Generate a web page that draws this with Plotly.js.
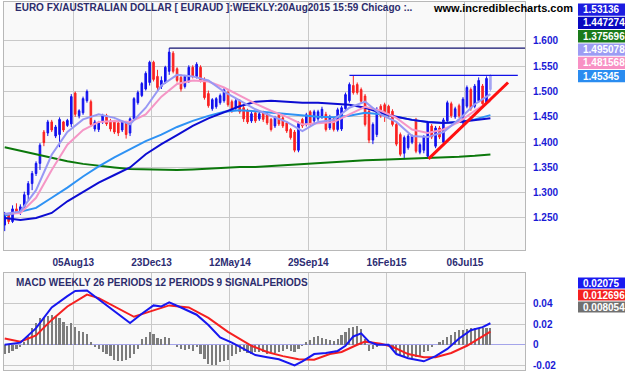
<!DOCTYPE html>
<html><head><meta charset="utf-8">
<script src="https://cdn.plot.ly/plotly-3.0.1.min.js"></script>
<style>html,body{margin:0;padding:0;background:#fff}#chart{width:625px;height:379px}</style>
</head><body><div id="chart"></div>
<script>
// Weekly EURAUD candles (week index 0 = Apr 2013 ... 124 = week of 17 Aug 2015)
const opens = [1.236,1.257,1.243,1.268,1.262,1.272,1.296,1.318,1.338,1.358,
1.420,1.418,1.440,1.412,1.415,1.440,1.433,1.436,1.497,1.452,
1.458,1.482,1.480,1.426,1.425,1.440,1.452,1.442,1.440,1.438,
1.424,1.438,1.418,1.446,1.478,1.492,1.505,1.518,1.558,1.530,
1.510,1.518,1.540,1.576,1.545,1.528,1.510,1.520,1.548,1.530,
1.548,1.524,1.496,1.466,1.470,1.478,1.482,1.498,1.480,1.468,
1.482,1.468,1.462,1.442,1.458,1.446,1.458,1.455,1.445,1.432,
1.455,1.448,1.438,1.425,1.420,1.384,1.445,1.435,1.460,1.442,
1.446,1.450,1.455,1.428,1.446,1.425,1.426,1.466,1.482,1.512,
1.514,1.504,1.491,1.461,1.404,1.415,1.471,1.474,1.471,1.461,
1.435,1.415,1.378,1.389,1.400,1.445,1.380,1.384,1.372,1.432,
1.392,1.428,1.400,1.442,1.476,1.450,1.472,1.438,1.471,1.504,
1.471,1.482,1.511,1.478,1.504];
const highs = [1.262,1.259,1.275,1.279,1.277,1.302,1.323,1.343,1.362,1.398,
1.424,1.444,1.444,1.434,1.449,1.442,1.446,1.495,1.500,1.465,
1.490,1.504,1.484,1.444,1.442,1.456,1.456,1.446,1.444,1.443,
1.442,1.442,1.449,1.489,1.502,1.519,1.540,1.561,1.561,1.543,
1.530,1.551,1.586,1.580,1.548,1.534,1.533,1.552,1.552,1.558,
1.552,1.528,1.502,1.487,1.489,1.496,1.507,1.502,1.484,1.486,
1.485,1.472,1.466,1.460,1.461,1.460,1.462,1.458,1.448,1.452,
1.458,1.451,1.441,1.428,1.424,1.441,1.448,1.458,1.463,1.464,
1.464,1.470,1.460,1.454,1.450,1.468,1.472,1.498,1.518,1.532,
1.518,1.508,1.495,1.465,1.439,1.469,1.475,1.478,1.474,1.465,
1.439,1.419,1.413,1.416,1.415,1.448,1.399,1.414,1.442,1.436,
1.432,1.432,1.448,1.482,1.480,1.470,1.476,1.489,1.512,1.508,
1.515,1.528,1.515,1.530,1.534];
const lows = [1.224,1.238,1.240,1.258,1.256,1.266,1.285,1.305,1.333,1.345,
1.392,1.412,1.420,1.408,1.390,1.420,1.430,1.430,1.450,1.447,
1.454,1.478,1.430,1.421,1.420,1.436,1.432,1.421,1.416,1.412,
1.420,1.407,1.412,1.443,1.474,1.489,1.502,1.512,1.520,1.503,
1.505,1.515,1.533,1.536,1.518,1.500,1.506,1.517,1.526,1.526,
1.518,1.484,1.468,1.462,1.466,1.474,1.478,1.470,1.458,1.464,
1.456,1.440,1.436,1.438,1.438,1.442,1.440,1.434,1.421,1.428,
1.432,1.428,1.418,1.405,1.380,1.380,1.428,1.431,1.432,1.438,
1.442,1.446,1.421,1.424,1.421,1.421,1.422,1.462,1.478,1.494,
1.494,1.477,1.431,1.398,1.396,1.410,1.448,1.440,1.448,1.431,
1.392,1.372,1.366,1.385,1.396,1.378,1.376,1.378,1.367,1.406,
1.388,1.406,1.396,1.438,1.448,1.446,1.448,1.434,1.467,1.462,
1.467,1.478,1.472,1.474,1.500];
const closes = [1.257,1.243,1.268,1.262,1.272,1.296,1.318,1.338,1.358,1.394,
1.399,1.440,1.424,1.430,1.445,1.424,1.443,1.490,1.455,1.462,
1.486,1.500,1.435,1.440,1.439,1.452,1.436,1.426,1.420,1.418,
1.440,1.415,1.446,1.486,1.498,1.516,1.536,1.558,1.524,1.508,
1.522,1.548,1.578,1.540,1.522,1.505,1.530,1.548,1.530,1.554,
1.522,1.488,1.472,1.484,1.486,1.492,1.503,1.474,1.462,1.482,
1.460,1.446,1.440,1.456,1.442,1.456,1.445,1.438,1.425,1.448,
1.436,1.432,1.422,1.409,1.384,1.437,1.432,1.454,1.436,1.460,
1.460,1.465,1.425,1.450,1.425,1.464,1.468,1.494,1.514,1.498,
1.498,1.481,1.435,1.404,1.435,1.465,1.452,1.455,1.452,1.435,
1.396,1.376,1.409,1.412,1.412,1.382,1.395,1.410,1.438,1.410,
1.428,1.410,1.444,1.478,1.452,1.466,1.452,1.485,1.508,1.466,
1.511,1.522,1.476,1.526,1.5314];

const maWeeks = [0,4,8,12,16,20,24,28,32,36,40,44,48,52,56,60,64,68,72,76,80,84,88,92,96,100,104,108,112,116,120,124];
const maLavender = [1.258,1.263,1.305,1.375,1.420,1.445,1.455,1.448,1.435,1.468,1.512,1.533,1.530,1.522,1.500,1.482,1.465,1.452,1.440,1.422,1.440,1.444,1.468,1.480,1.455,1.440,1.412,1.410,1.420,1.445,1.475,1.495078];
const maPink = [1.258,1.260,1.290,1.345,1.395,1.424,1.440,1.442,1.440,1.455,1.490,1.515,1.522,1.520,1.508,1.492,1.476,1.462,1.450,1.435,1.438,1.440,1.455,1.470,1.462,1.448,1.425,1.418,1.425,1.440,1.462,1.481568];
const maSky = [1.255,1.262,1.270,1.290,1.310,1.332,1.352,1.370,1.386,1.402,1.415,1.430,1.442,1.452,1.460,1.463,1.461,1.458,1.455,1.452,1.450,1.449,1.452,1.458,1.455,1.450,1.444,1.440,1.438,1.440,1.445,1.45345];
const maNavy = [1.250,1.246,1.250,1.260,1.283,1.302,1.320,1.335,1.350,1.376,1.396,1.414,1.432,1.447,1.459,1.471,1.480,1.482,1.480,1.478,1.478,1.476,1.474,1.468,1.458,1.450,1.444,1.440,1.438,1.440,1.443,1.447274];
const maGreen = [1.390,1.383,1.376,1.368,1.362,1.357,1.353,1.350,1.347,1.346,1.345,1.345,1.346,1.348,1.350,1.351,1.351,1.353,1.355,1.356,1.358,1.360,1.362,1.364,1.365,1.366,1.367,1.368,1.369,1.371,1.373,1.375696];

// Drawn lines: resistance lines and trend line
const topLineWeeks = [42, 133]; const topLinePrices = [1.586, 1.586];
const resLineWeeks = [88, 131]; const resLinePrices = [1.532, 1.532];
const trendWeeks = [108.2, 128.5]; const trendPrices = [1.367, 1.518];

// MACD panel
const macdWeeks = [0,4,8,12,16,18,21,24,28,32,35,38,40,42,45,49,52,55,58,61,64,67,70,74,76,79,82,85,87,89,91,93,95,98,100,103,107,110,113,116,119,122,124];
const macdValues = [0.000,0.002,0.016,0.036,0.047,0.052,0.0525,0.044,0.032,0.021,0.030,0.038,0.037,0.041,0.036,0.029,0.019,0.007,0.002,-0.004,-0.010,-0.012,-0.014,-0.020,-0.016,-0.009,-0.008,-0.006,-0.001,0.008,0.011,0.003,0.000,0.000,-0.009,-0.013,-0.016,-0.011,-0.004,0.006,0.014,0.017,0.02075];
const signalWeeks = [0,4,8,12,16,21,24,29,33,37,42,47,52,57,60,63,67,71,75,79,83,86,90,92,96,99,103,107,110,114,118,121,124];
const signalValues = [0.006,0.003,0.009,0.024,0.037,0.0485,0.045,0.035,0.027,0.032,0.038,0.036,0.026,0.0125,0.006,-0.001,-0.007,-0.011,-0.014,-0.0145,-0.009,-0.007,0.000,0.003,0.001,-0.002,-0.009,-0.012,-0.012,-0.008,-0.001,0.006,0.0127];
const histBars = [-0.009,-0.008,-0.006,-0.004,-0.002,0.003,0.009,0.016,0.021,0.026,
0.027,0.028,0.029,0.027,0.026,0.022,0.018,0.021,0.017,0.013,
0.012,0.010,0.003,-0.002,-0.004,-0.007,-0.009,-0.011,-0.015,-0.016,
-0.016,-0.015,-0.013,-0.009,-0.004,0.006,0.0075,0.012,0.010,0.0066,
0.006,0.0075,0.0066,0.000,-0.002,-0.004,-0.005,-0.004,-0.006,-0.002,
-0.009,-0.014,-0.019,-0.020,-0.020,-0.017,-0.016,-0.015,-0.011,-0.009,
-0.007,-0.006,-0.008,-0.009,-0.007,-0.0066,-0.007,-0.009,-0.007,-0.008,
-0.0066,-0.0056,-0.004,-0.0056,-0.007,-0.004,-0.0013,0.0026,0.005,0.0075,
0.008,0.0066,0.006,0.005,0.004,0.006,0.009,0.012,0.016,0.017,
0.018,0.015,0.006,-0.0056,-0.004,-0.0023,-0.0007,0.001,0.000,-0.004,
-0.009,-0.0105,-0.012,-0.012,-0.013,-0.012,-0.0105,-0.0072,-0.0056,-0.0023,
0.000,0.0026,0.0043,0.0075,0.009,0.012,0.014,0.014,0.015,0.016,
0.016,0.0157,0.016,0.016,0.0157];

// Axis ticks and texts
const dateTickWeeks = [17.5,37.5,57.5,77.5,97.5,117.5];
const dateTickLabels = ['05Aug13','23Dec13','12May14','29Sep14','16Feb15','06Jul15'];
const priceTicks = [1.25,1.30,1.35,1.40,1.45,1.50,1.55,1.60];
const priceTickLabels = ['1.250','1.300','1.350','1.400','1.450','1.500','1.550','1.600'];
const macdTicks = [-0.02,0,0.02,0.04];
const macdTickLabels = ['-0.02','0','0.02','0.04'];
const mainTitle = 'EURO FX/AUSTRALIAN DOLLAR [ EURAUD ]:WEEKLY:20Aug2015 15:59 Chicago :..';
const siteText = 'www.incrediblecharts.com';
const macdTitle = 'MACD WEEKLY 26 PERIODS 12 PERIODS 9 SIGNALPERIODS';
const priceBoxLabels = ['1.53136','1.447274','1.375696','1.495078','1.481568','1.45345'];
const macdBoxLabels = ['0.02075','0.012696','0.008054'];

// ---- styling ----
const W = 625, H = 379;
const px = x => x / W, py = y => 1 - y / H;
const FONT = 'Liberation Sans, Arial, sans-serif';
const weeks = closes.map((_, i) => i);
const nDone = closes.length - 1;
const histWeeks = histBars.map((_, i) => i);

const traces = [];
const maLine = (y, color) => ({type:'scatter', mode:'lines', x: maWeeks, y: y, xaxis:'x', yaxis:'y',
  line:{color: color, width: 2}, hoverinfo:'skip', showlegend:false});
traces.push(maLine(maGreen, '#0b780b'));
traces.push(maLine(maSky, '#2e92f4'));
traces.push(maLine(maNavy, '#0c0cd2'));
traces.push(maLine(maPink, '#f596c6'));
traces.push(maLine(maLavender, '#9898f4'));

traces.push({type:'candlestick', x: weeks.slice(0, nDone), open: opens.slice(0, nDone), high: highs.slice(0, nDone),
  low: lows.slice(0, nDone), close: closes.slice(0, nDone), xaxis:'x', yaxis:'y',
  increasing:{line:{color:'#1212ee', width:1}, fillcolor:'#1212ee'},
  decreasing:{line:{color:'#fa2222', width:1}, fillcolor:'#fa2222'},
  whiskerwidth:0, hoverinfo:'skip', showlegend:false});
traces.push({type:'candlestick', x: weeks.slice(nDone), open: opens.slice(nDone), high: highs.slice(nDone),
  low: lows.slice(nDone), close: closes.slice(nDone), xaxis:'x', yaxis:'y',
  increasing:{line:{color:'#a6a6f2', width:1}, fillcolor:'#a6a6f2'},
  decreasing:{line:{color:'#a6a6f2', width:1}, fillcolor:'#a6a6f2'},
  whiskerwidth:0, hoverinfo:'skip', showlegend:false});

traces.push({type:'scatter', mode:'lines', x: topLineWeeks, y: topLinePrices, xaxis:'x', yaxis:'y',
  line:{color:'#10106e', width:1.2}, hoverinfo:'skip', showlegend:false});
traces.push({type:'scatter', mode:'lines', x: resLineWeeks, y: resLinePrices, xaxis:'x', yaxis:'y',
  line:{color:'#1010e8', width:1.2}, hoverinfo:'skip', showlegend:false});
traces.push({type:'scatter', mode:'lines', x: trendWeeks, y: trendPrices, xaxis:'x', yaxis:'y',
  line:{color:'#ff1010', width:3}, hoverinfo:'skip', showlegend:false});

traces.push({type:'bar', x: histWeeks, y: histBars, xaxis:'x2', yaxis:'y2', width:0.55,
  marker:{color:'#7c7c7c', line:{width:0}}, hoverinfo:'skip', showlegend:false});
traces.push({type:'scatter', mode:'lines', x: signalWeeks, y: signalValues, xaxis:'x2', yaxis:'y2',
  line:{color:'#f52020', width:2}, hoverinfo:'skip', showlegend:false});
traces.push({type:'scatter', mode:'lines', x: macdWeeks, y: macdValues, xaxis:'x2', yaxis:'y2',
  line:{color:'#1717f0', width:2}, hoverinfo:'skip', showlegend:false});

const xRange = [-0.18, 132.83];
const gridC = '#c9c9c9', lineC = '#b8b8b8';
const baseX = {range: xRange, tickvals: dateTickWeeks, showgrid:true, gridcolor:gridC, gridwidth:1,
  zeroline:false, showline:true, linecolor:lineC, mirror:true, ticks:'', fixedrange:true};

const layout = {
  width: W, height: H, margin:{l:0, r:0, t:0, b:0}, paper_bgcolor:'#ffffff', plot_bgcolor:'#f9f9f9',
  showlegend:false, boxgap:0.42, bargap:0,
  xaxis: Object.assign({}, baseX, {domain:[px(4), px(525)], anchor:'y', ticktext: dateTickLabels,
    rangeslider:{visible:false}, ticks:'outside', ticklen:3, tickcolor:'rgba(0,0,0,0)',
    tickfont:{family:FONT, size:10, color:'#2c2c72', weight:'bold'}}),
  yaxis: {domain:[py(250), py(2)], range:[1.1867, 1.6771], side:'right', anchor:'x',
    tickvals: priceTicks, ticktext: priceTickLabels, showgrid:true, gridcolor:gridC, zeroline:false,
    showline:true, linecolor:lineC, mirror:true, ticks:'outside', ticklen:5, tickcolor:'rgba(0,0,0,0)',
    tickfont:{family:FONT, size:10, color:'#1a1ad6', weight:'bold'}, fixedrange:true},
  xaxis2: Object.assign({}, baseX, {domain:[px(4), px(525)], anchor:'y2', showticklabels:false}),
  yaxis2: {domain:[py(370), py(273)], range:[-0.0244, 0.0693], side:'right', anchor:'x2',
    tickvals: macdTicks, ticktext: macdTickLabels, showgrid:true, gridcolor:gridC,
    zeroline:true, zerolinecolor:'#a4a4ea', zerolinewidth:1,
    showline:true, linecolor:lineC, mirror:true, ticks:'outside', ticklen:5, tickcolor:'rgba(0,0,0,0)',
    tickfont:{family:FONT, size:10, color:'#1a1ad6', weight:'bold'}, fixedrange:true},
  annotations: [], shapes: []
};

layout.annotations.push({xref:'paper', yref:'paper', x:px(13), y:py(8), xanchor:'left', yanchor:'middle',
  text: mainTitle, showarrow:false, font:{family:FONT, size:10, color:'#2c2c6c', weight:'bold'}});
layout.annotations.push({xref:'paper', yref:'paper', x:px(431), y:py(8), xanchor:'left', yanchor:'middle',
  text: siteText, showarrow:false, font:{family:FONT, size:11, color:'#000000', weight:'bold'}});
layout.annotations.push({xref:'paper', yref:'paper', x:px(14), y:py(282), xanchor:'left', yanchor:'middle',
  text: macdTitle, showarrow:false, font:{family:FONT, size:10, color:'#2c2c6c', weight:'bold'}});

const priceBoxColors = ['#1c1ce0','#0808c0','#1a7a1a','#9c9cf4','#f890c4','#2a8cf0'];
priceBoxLabels.forEach((t, k) => {
  const top = 3 + 13.3 * k, h = 13.3;
  layout.shapes.push({type:'rect', xref:'paper', yref:'paper', x0:px(578), x1:px(625), y0:py(top + h - 0.5), y1:py(top + 0.5),
    fillcolor: priceBoxColors[k], line:{width:0}, layer:'above'});
  layout.annotations.push({xref:'paper', yref:'paper', x:px(581), y:py(top + h / 2), xanchor:'left', yanchor:'middle',
    text: t, showarrow:false, font:{family:FONT, size:10, color:'#ffffff', weight:'bold'}});
});
const macdBoxColors = ['#1a1af0','#f52020','#707070'];
macdBoxLabels.forEach((t, k) => {
  const top = 277 + 12 * k, h = 12;
  layout.shapes.push({type:'rect', xref:'paper', yref:'paper', x0:px(578), x1:px(625), y0:py(top + h - 0.5), y1:py(top + 0.5),
    fillcolor: macdBoxColors[k], line:{width:0}, layer:'above'});
  layout.annotations.push({xref:'paper', yref:'paper', x:px(581), y:py(top + h / 2), xanchor:'left', yanchor:'middle',
    text: t, showarrow:false, font:{family:FONT, size:10, color:'#ffffff', weight:'bold'}});
});

Plotly.newPlot('chart', traces, layout, {staticPlot:true, displayModeBar:false});
</script></body></html>
